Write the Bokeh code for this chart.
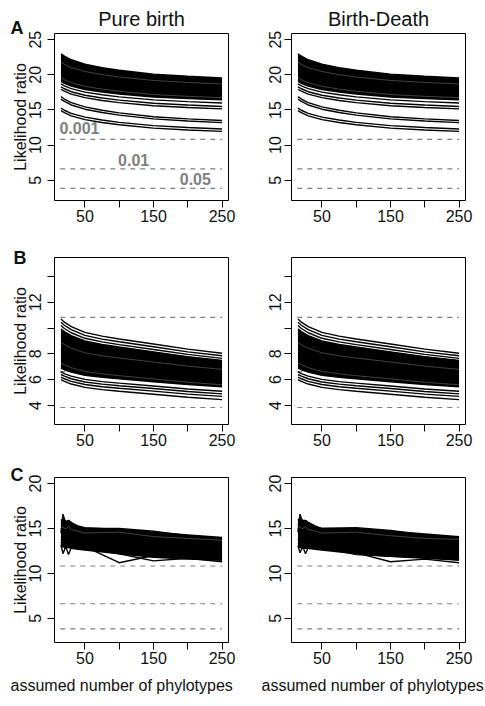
from bokeh.plotting import figure
from bokeh.models import Range1d, FixedTicker, Label, Title
from bokeh.layouts import column, row
from bokeh.embed import file_html
from bokeh.resources import INLINE

FONT = "Liberation Sans"

# ---------------- texts ----------------
col_titles = ["Pure birth", "Birth-Death"]
panel_letters = ["A", "B", "C"]
y_title = "Likelihood ratio"
x_title = "assumed number of phylotypes"

# ---------------- axes ----------------
x_ticks = [50, 100, 150, 200, 250]
x_tick_labels = ["50", "", "150", "", "250"]
a_y_ticks = [5, 10, 15, 20, 25]
a_y_tick_labels = ["5", "10", "15", "20", "25"]
b_y_ticks = [4, 6, 8, 10, 12, 14]
b_y_tick_labels = ["4", "6", "8", "", "12", ""]
c_y_ticks = [5, 10, 15, 20]
c_y_tick_labels = ["5", "10", "15", "20"]

# chi-square critical values (p = 0.001, 0.01, 0.05)
crit_values = [10.83, 6.63, 3.84]
crit_labels = ["0.001", "0.01", "0.05"]
crit_label_x = [42, 121, 211]
crit_label_y = [12.4, 7.86, 5.24]
crit_x = [14, 250]

# ---------------- panel A / B (smooth curves) ----------------
x_ab = [15, 20, 30, 50, 75, 100, 150, 200, 250]

a_band_top = [23.0, 22.66, 22.14, 21.52, 21.03, 20.65, 20.1, 19.79, 19.55]
a_band_bottom = [19.05, 18.79, 18.4, 17.92, 17.56, 17.27, 16.85, 16.61, 16.43]
a_edge_1 = [18.7, 18.43, 18.03, 17.54, 17.16, 16.86, 16.43, 16.19, 16.0]
a_edge_2 = [18.3, 18.02, 17.6, 17.1, 16.7, 16.4, 15.95, 15.7, 15.5]
a_edge_3 = [17.95, 17.67, 17.25, 16.75, 16.35, 16.05, 15.6, 15.35, 15.15]
a_low_1 = [16.9, 16.56, 16.05, 15.44, 14.96, 14.59, 14.04, 13.74, 13.5]
a_low_2 = [16.55, 16.22, 15.71, 15.11, 14.64, 14.27, 13.74, 13.43, 13.2]
a_low_3 = [15.25, 14.96, 14.51, 13.98, 13.57, 13.24, 12.77, 12.5, 12.3]
a_low_4 = [14.9, 14.61, 14.16, 13.63, 13.22, 12.89, 12.42, 12.16, 11.95]
a_gap_1 = [21.8, 21.49, 21.02, 20.47, 20.03, 19.69, 19.2, 18.92, 18.7]
a_gap_2 = [19.6, 19.31, 18.88, 18.37, 17.97, 17.66, 17.2, 16.94, 16.75]

b_top_1 = [10.7, 10.46, 10.12, 9.67, 9.38, 9.16, 8.77, 8.37, 8.05]
b_top_2 = [10.45, 10.22, 9.88, 9.44, 9.15, 8.94, 8.55, 8.16, 7.85]
b_top_3 = [10.2, 9.97, 9.64, 9.21, 8.93, 8.72, 8.34, 7.96, 7.65]
b_band_top = [9.95, 9.73, 9.41, 9.0, 8.73, 8.53, 8.16, 7.79, 7.5]
b_band_bottom = [6.9, 6.77, 6.58, 6.33, 6.18, 6.06, 5.84, 5.62, 5.45]
b_low_1 = [6.6, 6.47, 6.27, 6.02, 5.85, 5.73, 5.51, 5.28, 5.1]
b_low_2 = [6.4, 6.27, 6.07, 5.82, 5.65, 5.53, 5.31, 5.08, 4.9]
b_low_3 = [6.2, 6.07, 5.87, 5.62, 5.45, 5.33, 5.11, 4.88, 4.7]
b_low_4 = [6.0, 5.86, 5.66, 5.4, 5.23, 5.1, 4.87, 4.64, 4.45]
b_gap_1 = [7.3, 7.15, 6.93, 6.64, 6.45, 6.31, 6.06, 5.8, 5.6]
b_gap_2 = [8.9, 8.71, 8.44, 8.08, 7.85, 7.68, 7.37, 7.05, 6.8]

# ---------------- panel C (noisy curves) ----------------
x_c = [15, 18, 22, 26, 30, 40, 50, 100, 150, 200, 250]

c_band_top = [15.9, 16.1, 15.8, 15.9, 15.6, 15.3, 15.1, 14.9, 14.6, 14.3, 14.0]
c_band_bottom = [12.9, 13.0, 12.8, 12.9, 12.8, 12.7, 12.6, 12.2, 11.8, 11.6, 11.5]
c_line_1 = [14.5, 16.6, 15.6, 15.4, 15.2, 14.9, 14.8, 14.5, 14.1, 13.8, 13.5]
c_line_2 = [15.5, 15.6, 15.5, 15.9, 15.7, 15.2, 15.0, 15.0, 14.7, 14.2, 13.9]
c_line_3 = [13.2, 12.2, 13.0, 12.1, 12.9, 12.8, 12.7, 12.3, 12.0, 11.8, 11.5]
c_line_4 = [13.5, 13.2, 12.9, 13.0, 12.8, 12.9, 13.0, 11.2, 12.0, 11.9, 11.6]
c_line_5 = [13.8, 13.5, 13.6, 13.3, 13.4, 13.1, 12.9, 12.2, 11.4, 11.7, 11.3]
c_line_6 = [15.0, 14.8, 15.2, 14.9, 14.6, 14.5, 14.6, 14.4, 14.3, 13.7, 13.6]
c_gap_1 = [15.2, 15.1, 15.0, 15.2, 14.9, 14.7, 14.5, 14.6, 14.1, 13.9, 13.7]

d_band_top = [15.9, 16.2, 15.9, 15.9, 15.7, 15.3, 15.0, 15.0, 14.7, 14.4, 14.1]
d_band_bottom = [12.9, 12.9, 12.8, 12.8, 12.8, 12.7, 12.6, 12.2, 11.9, 11.7, 11.5]
d_line_1 = [14.6, 16.6, 15.7, 15.5, 15.3, 15.0, 14.8, 14.6, 14.2, 13.9, 13.6]
d_line_2 = [15.4, 15.7, 15.6, 15.9, 15.6, 15.2, 15.0, 15.1, 14.8, 14.3, 14.0]
d_line_3 = [13.1, 12.3, 13.0, 12.2, 12.9, 12.8, 12.7, 12.4, 12.1, 11.9, 11.6]
d_line_4 = [13.4, 13.2, 12.9, 13.0, 12.8, 12.9, 13.0, 12.3, 11.3, 11.6, 11.2]
d_line_5 = [13.8, 13.6, 13.6, 13.3, 13.4, 13.1, 12.9, 12.1, 11.9, 11.8, 11.5]
d_line_6 = [15.0, 14.8, 15.2, 14.9, 14.6, 14.5, 14.6, 14.4, 14.3, 13.8, 13.7]
d_gap_1 = [15.2, 15.1, 15.0, 15.2, 14.9, 14.7, 14.5, 14.6, 14.2, 13.9, 13.8]

# ---------------- layout (pixels) ----------------
X_RANGE = (5.6, 259.4)
Y_RANGES = [(2.12, 25.88), (2.52, 15.48), (2.32, 20.68)]
FRAME_W = 174
FRAME_H = [167, 167, 165]
BORDER_TOP = [33, 29, 25]
BORDER_BOTTOM = [28, 28, 64]
BORDER_LEFT = [54, 51]
BORDER_RIGHT = [12, 20]
LETTER_OFFSET = [-44, -41, -44]
LETTER_STANDOFF = [-8, -20, -15]
XTITLE_OFFSET = [-44, -30]

LINE_W = 1.4
TXT = "#111111"


def base_fig(r, c, y_ticks, y_tick_labels):
    p = figure(
        frame_width=FRAME_W, frame_height=FRAME_H[r],
        x_range=Range1d(*X_RANGE), y_range=Range1d(*Y_RANGES[r]),
        output_backend="svg", toolbar_location=None,
        min_border_left=BORDER_LEFT[c], min_border_right=BORDER_RIGHT[c],
        min_border_top=BORDER_TOP[r], min_border_bottom=BORDER_BOTTOM[r],
        background_fill_color="white", border_fill_color="white",
    )
    p.xgrid.visible = False
    p.ygrid.visible = False
    p.outline_line_color = "black"
    p.outline_line_width = 1
    p.outline_line_alpha = 1.0

    for ax in (p.xaxis[0], p.yaxis[0]):
        ax.axis_line_color = None
        ax.minor_tick_line_color = None
        ax.major_tick_in = 0
        ax.major_tick_out = 7
        ax.major_tick_line_color = "black"
        ax.major_tick_line_width = 1
        ax.major_label_text_font = FONT
        ax.major_label_text_font_size = "16px"
        ax.major_label_text_color = TXT
        ax.axis_label_text_font = FONT
        ax.axis_label_text_font_size = "16px"
        ax.axis_label_text_font_style = "normal"
        ax.axis_label_text_color = TXT

    p.xaxis.ticker = FixedTicker(ticks=x_ticks)
    p.xaxis.major_label_overrides = dict(zip(x_ticks, x_tick_labels))
    p.xaxis.major_label_standoff = 2

    p.yaxis.ticker = FixedTicker(ticks=y_ticks)
    p.yaxis.major_label_overrides = dict(zip(y_ticks, y_tick_labels))
    p.yaxis.major_label_orientation = "vertical"
    if c == 0:
        p.yaxis.major_label_standoff = 6
        p.yaxis.axis_label = y_title
        p.yaxis.axis_label_standoff = -2
    else:
        p.yaxis.major_label_standoff = 3

    # critical-value reference lines
    for v in crit_values:
        p.line(crit_x, [v, v], line_color="#808080", line_width=1.2, line_dash="5 5")

    # panel letter
    if c == 0:
        p.add_layout(Title(text=panel_letters[r], align="left", offset=LETTER_OFFSET[r],
                           standoff=LETTER_STANDOFF[r], vertical_align="bottom",
                           text_font=FONT, text_font_size="18px", text_font_style="bold",
                           text_color=TXT), "above")
    # column title
    if r == 0:
        p.add_layout(Title(text=col_titles[c], align="center",
                           standoff=-20 if c == 0 else 8, vertical_align="bottom",
                           text_font=FONT, text_font_size="20px", text_font_style="normal",
                           text_color=TXT), "above")
    # x title on bottom row
    if r == 2:
        p.add_layout(Title(text=x_title, align="left", offset=XTITLE_OFFSET[c],
                           standoff=16, vertical_align="bottom",
                           text_font=FONT, text_font_size="16px", text_font_style="normal",
                           text_color=TXT), "below")
    return p


def panel_a(c):
    p = base_fig(0, c, a_y_ticks, a_y_tick_labels)
    p.varea(x=x_ab, y1=a_band_bottom, y2=a_band_top, fill_color="black")
    for ys in (a_band_top, a_band_bottom, a_edge_1, a_edge_2, a_edge_3,
               a_low_1, a_low_2, a_low_3, a_low_4):
        p.line(x_ab, ys, line_color="black", line_width=LINE_W)
    for ys in (a_gap_1, a_gap_2):
        p.line(x_ab, ys, line_color="white", line_width=0.5, line_alpha=0.5)
    if c == 0:
        for t, lx, ly in zip(crit_labels, crit_label_x, crit_label_y):
            p.add_layout(Label(x=lx, y=ly, text=t, text_font=FONT, text_font_size="16px",
                               text_font_style="bold", text_color="#808080",
                               text_align="center", text_baseline="middle"))
    return p


def panel_b(c):
    p = base_fig(1, c, b_y_ticks, b_y_tick_labels)
    p.varea(x=x_ab, y1=b_band_bottom, y2=b_band_top, fill_color="black")
    for ys in (b_top_1, b_top_2, b_top_3, b_band_top, b_band_bottom,
               b_low_1, b_low_2, b_low_3, b_low_4):
        p.line(x_ab, ys, line_color="black", line_width=LINE_W)
    for ys in (b_gap_1, b_gap_2):
        p.line(x_ab, ys, line_color="white", line_width=0.5, line_alpha=0.5)
    return p


def panel_c(c):
    p = base_fig(2, c, c_y_ticks, c_y_tick_labels)
    if c == 0:
        top, bot = c_band_top, c_band_bottom
        lines = (c_line_1, c_line_2, c_line_3, c_line_4, c_line_5, c_line_6)
        gaps = (c_gap_1,)
    else:
        top, bot = d_band_top, d_band_bottom
        lines = (d_line_1, d_line_2, d_line_3, d_line_4, d_line_5, d_line_6)
        gaps = (d_gap_1,)
    p.varea(x=x_c, y1=bot, y2=top, fill_color="black")
    for ys in (top, bot) + lines:
        p.line(x_c, ys, line_color="black", line_width=LINE_W)
    for ys in gaps:
        p.line(x_c, ys, line_color="white", line_width=0.5, line_alpha=0.5)
    return p


layout = column(
    row(panel_a(0), panel_a(1)),
    row(panel_b(0), panel_b(1)),
    row(panel_c(0), panel_c(1)),
)

open("out.html", "w").write(file_html(layout, INLINE))
